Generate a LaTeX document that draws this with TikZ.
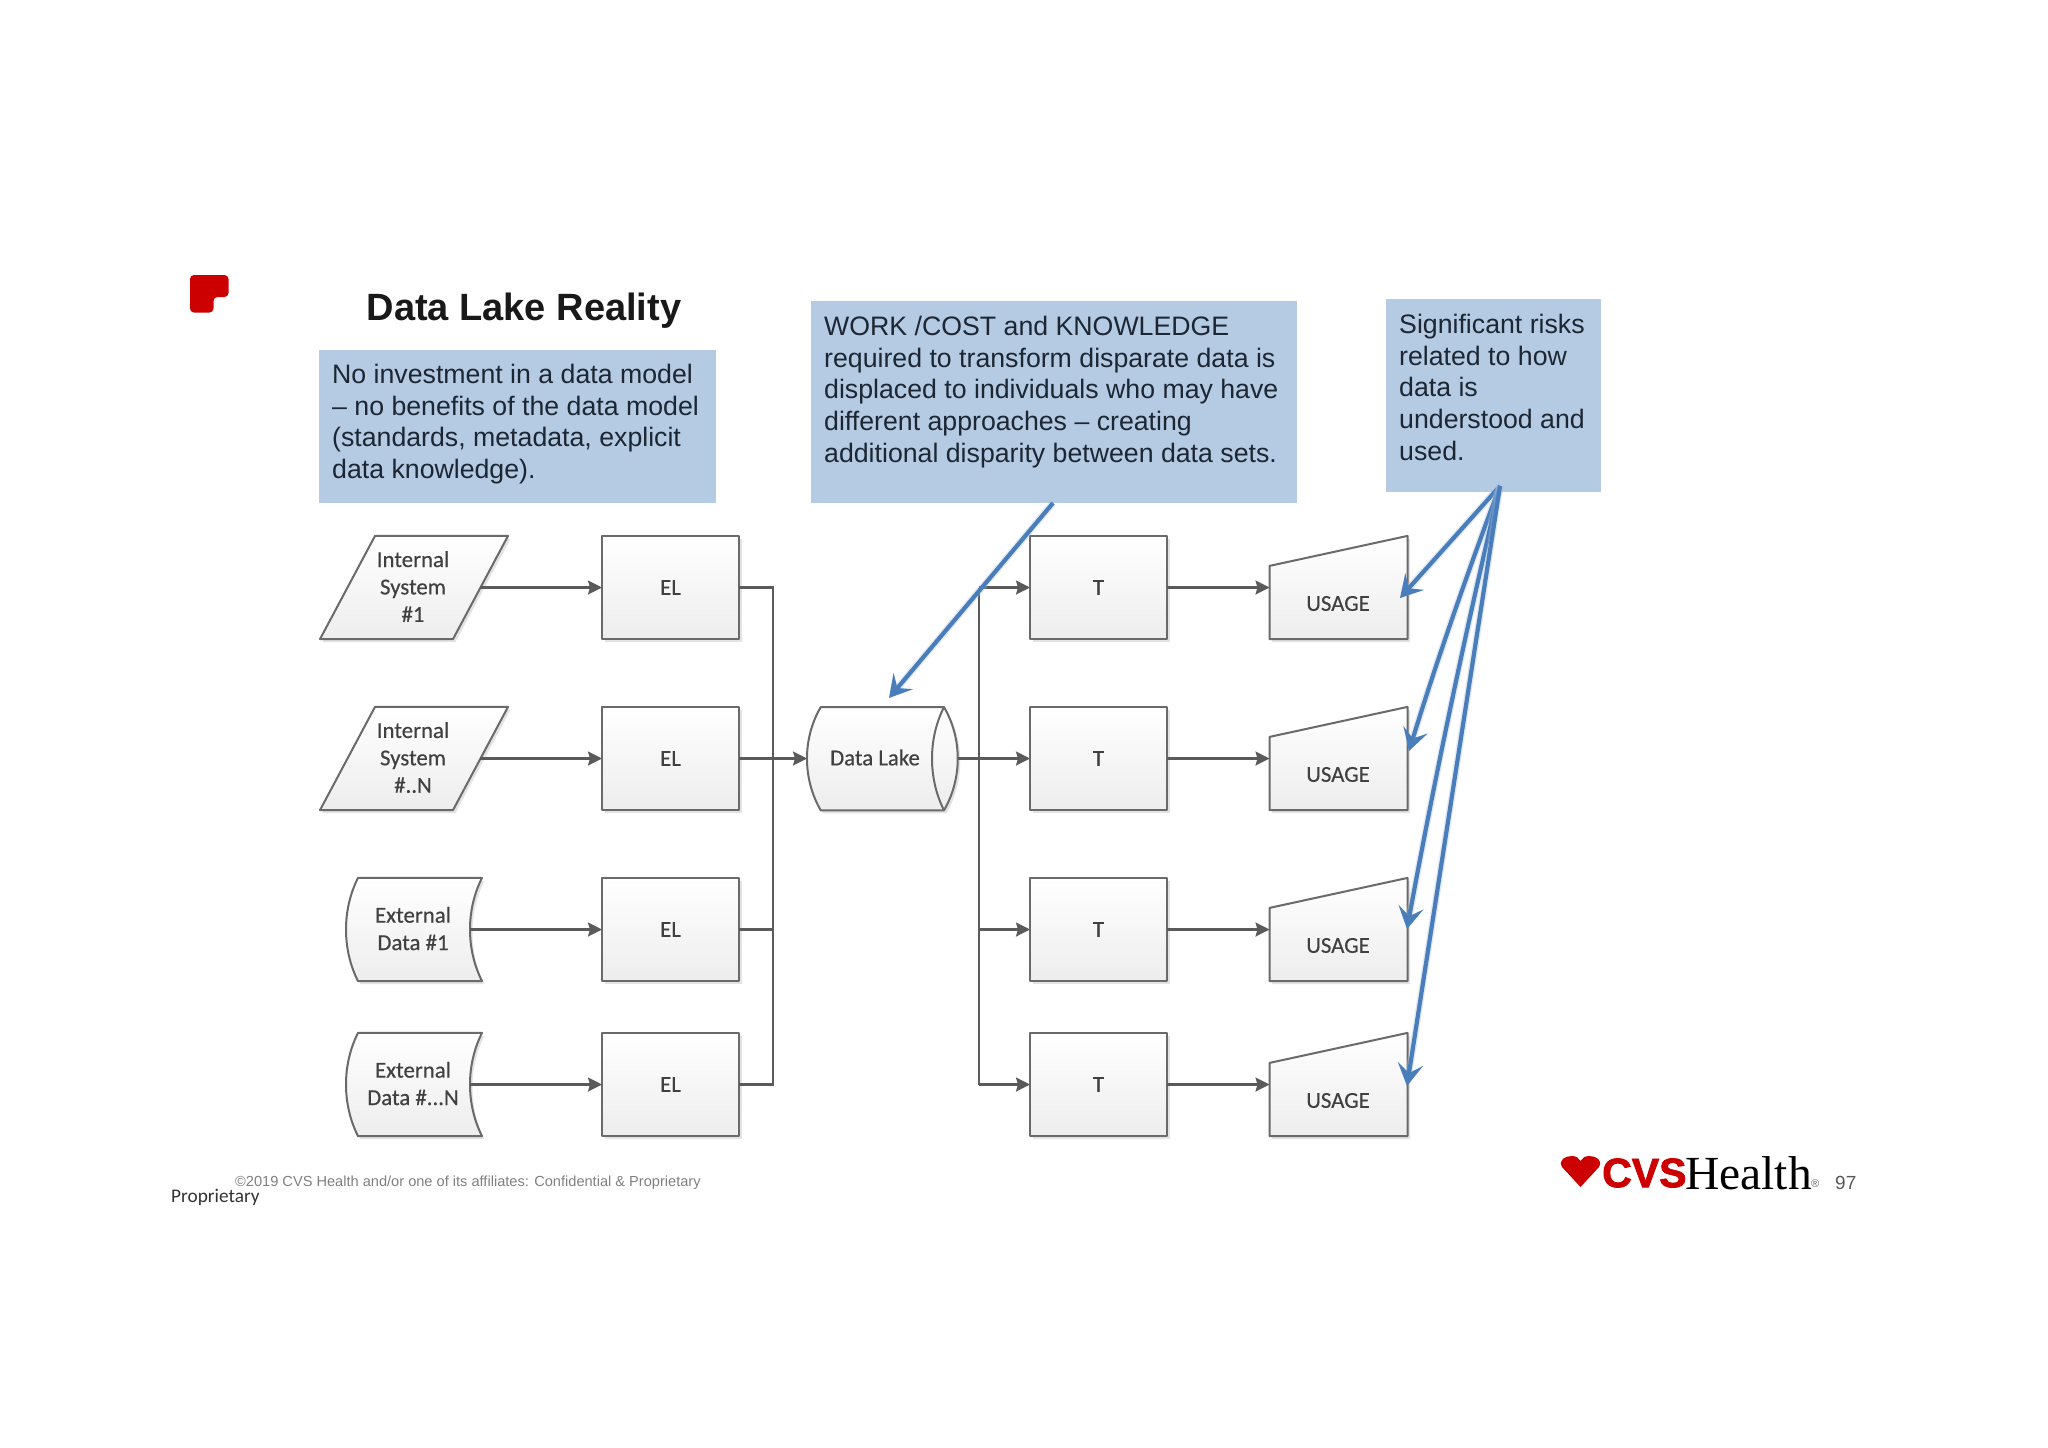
\documentclass[tikz,border=0pt]{standalone}
\usepackage{fontspec}
\setmainfont{Liberation Sans}
\newfontfamily\carlitofam[RawFeature={embolden=0.4}]{Carlito}
\newfontfamily\carlitoplain{Carlito}
\newfontfamily\serifhealth{Liberation Serif}
\newfontfamily\cvsfont[RawFeature={embolden=2}]{Liberation Sans Bold}
\usetikzlibrary{arrows.meta,shadows,calc}
\definecolor{bluebox}{HTML}{B5CAE3}
\definecolor{boxtext}{HTML}{1C2733}
\definecolor{shapeline}{HTML}{6A6A6A}
\definecolor{conn}{HTML}{5A5A5A}
\definecolor{lbl}{HTML}{404040}
\definecolor{bluearrow}{HTML}{4A7EBB}
\definecolor{cvsred}{HTML}{CC0000}
\tikzset{
  x=1pt,y=-1pt,
  note/.style={fill=bluebox,draw=none},
  notetext/.style={anchor=north west,inner sep=0pt,align=left,text=boxtext,font=\fontsize{26.7}{31.7}\selectfont},
  shp/.style={draw=shapeline,line width=2pt,top color=white,bottom color=black!7,line join=round,
    drop shadow={opacity=.22,shadow xshift=2.5pt,shadow yshift=-3pt}},
  ghost/.style={draw=none,inner sep=0pt,outer sep=0pt,minimum height=103.2pt},
  lab/.style={text=lbl,align=center,inner sep=0pt,font=\carlitofam\fontsize{22.8}{27.4}\selectfont},
  boxnode/.style={shp,rectangle,inner sep=0pt,outer sep=0pt,minimum width=137pt,minimum height=103.2pt,text=lbl,font=\carlitofam\fontsize{22.8}{27.4}\selectfont},
  flow/.style={draw=conn,line width=2.2pt,-{Stealth[length=14pt,width=14pt,inset=2pt]}},
  busline/.style={draw=conn,line width=2.2pt,line join=miter},
  callout/.style={draw=bluearrow,line width=4.2pt,-{Stealth[length=22pt,width=25pt,inset=9pt]},
    preaction={draw=bluearrow!45,line width=7pt,opacity=.35}},
}
\begin{document}
\begin{tikzpicture}
\useasboundingbox (0,0) rectangle (2048,1448);
\fill[white] (0,0) rectangle (2048,1448);

% red tab
\fill[cvsred,rounded corners=4pt] (190,275) -- (228.5,275) -- (228.5,297) -- (213.5,297) -- (213.5,312.5) -- (190,312.5) -- cycle;

% title
\node[inner sep=0pt,font=\bfseries\fontsize{38}{44}\selectfont,text=black!90] (title) at (524,311) {Data Lake Reality};

% notes
\fill[note] (318.7,350) rectangle (715.7,503);
\node[notetext] (n1) at (332,364) {No investment in a data model\\– no benefits of the data model\\(standards, metadata, explicit\\data knowledge).};
\fill[note] (811,300.5) rectangle (1297,503);
\node[notetext] (n2) at (824,316) {WORK /COST and KNOWLEDGE\\required to transform disparate data is\\displaced to individuals who may have\\different approaches – creating\\additional disparity between data sets.};
\fill[note] (1386,298.5) rectangle (1601,492);
\node[notetext] (n3) at (1399,314) {Significant risks\\related to how\\data is\\understood and\\used.};

% parallelograms
\foreach \i/\y/\t in {1/587.5/{Internal\\System\\\#1},2/758.5/{Internal\\System\\\#..N}}{
  \path[shp] (375,\y-51.6) -- (508,\y-51.6) -- (453,\y+51.6) -- (320,\y+51.6) -- cycle;
  \node[ghost,minimum width=132pt] (s\i) at (414,\y) {};
  \node[lab] (st\i) at (413,\y-1) {\t};
}
% documents
\foreach \i/\y/\t in {3/929.5/{External\\Data \#1},4/1084.5/{External\\Data \#...N}}{
  \path[shp] (358,\y-51.6) -- (482,\y-51.6)
     .. controls (466,\y-20) and (466,\y+20) .. (482,\y+51.6) -- (358,\y+51.6)
     .. controls (342,\y+20) and (342,\y-20) .. (358,\y-51.6) -- cycle;
  \node[ghost,minimum width=114pt] (s\i) at (413,\y) {};
  \node[lab] (st\i) at (413,\y-1) {\t};
}
% EL, T, USAGE
\foreach \i/\y in {1/587.5,2/758.5,3/929.5,4/1084.5}{
  \node[boxnode] (el\i) at (670.5,\y) {EL};
  \node[boxnode] (t\i) at (1098.5,\y) {T};
  \path[shp] (1269.5,\y-21.6) -- (1407.5,\y-51.6) -- (1407.5,\y+51.6) -- (1269.5,\y+51.6) -- cycle;
  \node[ghost,minimum width=138pt] (u\i) at (1338.5,\y) {};
  \node[lab] (ut\i) at (1338,\y+16) {USAGE};
  \draw[flow] (s\i.east) -- (el\i.west);
  \draw[flow] (t\i.east) -- (u\i.west);
}

% data lake
\path[shp] (820.7,707.1) -- (944,707.1)
   .. controls (962.3,738.5) and (962.3,778.5) .. (944,810.3) -- (820.7,810.3)
   .. controls (802.4,778.5) and (802.4,738.5) .. (820.7,707.1) -- cycle;
\draw[shapeline,line width=2pt] (944,707.1) .. controls (928,738.5) and (928,778.5) .. (944,810.3);
\node[ghost,minimum width=150.7pt] (dl) at (882.35,758.5) {};
\node[lab] (dlt) at (875,757.5) {Data Lake};

% buses
\coordinate (busa) at (773,758.5);
\coordinate (busb) at (979,758.5);
\draw[busline] (el1.east) -| (busa);
\draw[busline] (el2.east) -- (busa);
\draw[busline] (el3.east) -| (busa);
\draw[busline] (el4.east) -| (busa);
\draw[flow] (busa) -- (dl.west);
\draw[busline] (dl.east) -- (busb);
\draw[busline] (t1.west -| busb) -- (t4.west -| busb);
\draw[flow] (busb |- t1.west) -- (t1.west);
\draw[flow] (busb) -- (t2.west);
\draw[flow] (busb |- t3.west) -- (t3.west);
\draw[flow] (busb |- t4.west) -- (t4.west);

% callout arrows
\coordinate (from2) at (1053,503);
\coordinate (to2) at (889,698);
\coordinate (from3) at (1500,486);
\coordinate (tou1) at (1400,598);
\coordinate (tou2) at (1409,751);
\coordinate (tou3) at (1407,929);
\coordinate (tou4) at (1407,1086);
\draw[callout] (from2) -- (to2);
\draw[callout] (from3) -- (tou1);
\draw[callout] (from3) .. controls (1467,574) and (1436,663) .. (tou2);
\draw[callout] (from3) .. controls (1465,633) and (1434,782) .. (tou3);
\draw[callout] (from3) -- (tou4);

% footer
\node[anchor=west,inner sep=0pt,text=black!50,font=\fontsize{14.6}{18}\selectfont] (foot) at (235,1183) {©2019 CVS Health and/or one of its affiliates: Confidential \& Proprietary};
\node[anchor=west,inner sep=0pt,text=black!80,font=\carlitoplain\fontsize{19.3}{22}\selectfont] (prop) at (171,1197) {Proprietary};
\node[anchor=west,inner sep=0pt,text=black!65,font=\fontsize{19}{22}\selectfont] (page) at (1835,1183) {97};

% logo
\fill[cvsred] (1580.5,1187) -- (1562,1167) .. controls (1558,1160) and (1565,1156) .. (1572,1156) .. controls (1576,1156) and (1579,1158) .. (1580.5,1161) .. controls (1582,1158) and (1585,1156) .. (1589,1156) .. controls (1596,1156) and (1603,1160) .. (1599,1167) -- cycle;
\node[anchor=west,inner sep=0pt,text=cvsred,font=\cvsfont\fontsize{41}{44}\selectfont] (cvs) at (1602,1173) {CVS};
\node[anchor=west,inner sep=0pt,text=black,font=\serifhealth\fontsize{47.5}{50}\selectfont] (health) at (1685,1173) {Health};
\node[anchor=west,inner sep=0pt,text=black!60,font=\fontsize{11}{12}\selectfont] (reg) at (1811,1184) {®};
\end{tikzpicture}
\end{document}
